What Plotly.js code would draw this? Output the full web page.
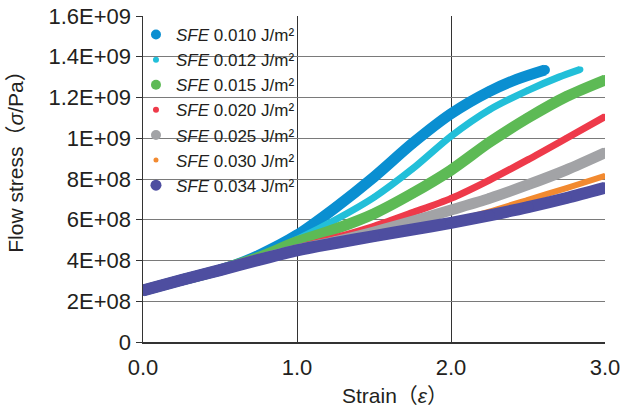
<!DOCTYPE html>
<html>
<head>
<meta charset="utf-8">
<script src="https://cdn.plot.ly/plotly-3.0.1.min.js"></script>
<style>html,body{margin:0;padding:0;background:#fff;}#chart{width:622px;height:411px;}</style>
</head>
<body>
<div id="chart"></div>
<script>
// ---- data ----
const sfeLabels = ["0.010", "0.012", "0.015", "0.020", "0.025", "0.030", "0.034"];
const seriesColors = ["#0a8fd1", "#22bfd9", "#5dba55", "#ee3a4a", "#a2a3a6", "#f28a30", "#4e4ea0"];

const strain010 = [0, 0.25, 0.5, 0.6, 0.75, 1.0, 1.25, 1.5, 1.75, 2.0, 2.25, 2.43, 2.61];
const stress010 = [2.53e8, 3.04e8, 3.53e8, 3.78e8, 4.25e8, 5.25e8, 6.6e8, 8.1e8, 9.75e8, 11.2e8, 12.3e8, 12.9e8, 13.35e8];

const strain012 = [0, 0.25, 0.5, 0.6, 0.75, 1.0, 1.25, 1.5, 1.75, 2.0, 2.25, 2.5, 2.7, 2.84];
const stress012 = [2.53e8, 3.04e8, 3.53e8, 3.78e8, 4.2e8, 5.04e8, 6.0e8, 7.1e8, 8.5e8, 10.1e8, 11.4e8, 12.35e8, 13.0e8, 13.38e8];

const strain015 = [0, 0.25, 0.5, 0.6, 0.75, 1.0, 1.25, 1.5, 1.75, 2.0, 2.25, 2.5, 2.75, 3.0];
const stress015 = [2.53e8, 3.04e8, 3.53e8, 3.78e8, 4.15e8, 4.92e8, 5.55e8, 6.3e8, 7.3e8, 8.44e8, 9.8e8, 11.0e8, 12.05e8, 12.86e8];

const strain020 = [0, 0.25, 0.5, 0.75, 1.0, 1.25, 1.5, 1.75, 2.0, 2.25, 2.5, 2.75, 3.0];
const stress020 = [2.53e8, 3.04e8, 3.53e8, 4.1e8, 4.62e8, 5.12e8, 5.68e8, 6.35e8, 7.05e8, 7.95e8, 8.95e8, 10.0e8, 11.06e8];

const strain025 = [0, 0.25, 0.5, 0.75, 1.0, 1.25, 1.5, 1.75, 2.0, 2.25, 2.5, 2.75, 3.0];
const stress025 = [2.53e8, 3.04e8, 3.53e8, 4.05e8, 4.52e8, 4.93e8, 5.4e8, 5.92e8, 6.48e8, 7.05e8, 7.72e8, 8.45e8, 9.29e8];

const strain030 = [0, 0.25, 0.5, 0.75, 1.0, 1.25, 1.5, 1.75, 2.0, 2.25, 2.5, 2.75, 3.0];
const stress030 = [2.53e8, 3.04e8, 3.53e8, 4.03e8, 4.5e8, 4.87e8, 5.22e8, 5.56e8, 5.92e8, 6.4e8, 6.98e8, 7.55e8, 8.15e8];

const strain034 = [0, 0.25, 0.5, 0.75, 1.0, 1.25, 1.5, 1.75, 2.0, 2.25, 2.5, 2.75, 3.0];
const stress034 = [2.53e8, 3.04e8, 3.53e8, 4.03e8, 4.5e8, 4.86e8, 5.2e8, 5.52e8, 5.85e8, 6.22e8, 6.62e8, 7.07e8, 7.57e8];

const xTickVals = [0, 1, 2, 3];
const xTickText = ["0.0", "1.0", "2.0", "3.0"];
const yTickVals = [0, 2e8, 4e8, 6e8, 8e8, 1e9, 1.2e9, 1.4e9, 1.6e9];
const yTickText = ["0", "2E+08", "4E+08", "6E+08", "8E+08", "1E+09", "1.2E+09", "1.4E+09", "1.6E+09"];
const xTitle = 'Strain（<i>ε</i>）';
const yTitle = 'Flow stress（<i>σ</i>/Pa）';

// ---- styling ----
const strains = [strain010, strain012, strain015, strain020, strain025, strain030, strain034];
const stresses = [stress010, stress012, stress015, stress020, stress025, stress030, stress034];
const lineWidths = [11, 7, 11, 7, 11, 6, 12];
const markerSizes = [10, 6, 10, 6, 10, 5, 11];

const traces = [];
for (let i = 0; i < sfeLabels.length; i++) {
  traces.push({
    x: strains[i], y: stresses[i], type: 'scatter', mode: 'lines',
    line: {color: seriesColors[i], width: lineWidths[i], shape: 'spline', smoothing: 0.8},
    showlegend: false, legendgroup: 'g' + i, hoverinfo: 'skip'
  });
  traces.push({
    x: strains[i], y: stresses[i], type: 'scatter', mode: 'markers',
    marker: {color: seriesColors[i], size: markerSizes[i]},
    name: '<i>SFE</i> ' + sfeLabels[i] + ' J/m²',
    showlegend: true, legendgroup: 'g' + i
  });
}

const fontFam = '"Liberation Sans", Arial, Helvetica, "Noto Sans CJK JP", sans-serif';
const txtColor = '#231f20';
const layout = {
  width: 622, height: 411,
  margin: {l: 143, r: 17, t: 16, b: 69, pad: 0},
  paper_bgcolor: '#ffffff', plot_bgcolor: '#ffffff',
  font: {family: fontFam, color: txtColor, size: 21},
  xaxis: {
    range: [0, 3], tickmode: 'array', tickvals: xTickVals, ticktext: xTickText,
    showgrid: true, gridcolor: '#333333', gridwidth: 1,
    showline: true, linecolor: '#333333', linewidth: 1.5,
    ticks: '', ticklabelstandoff: 5,
    zeroline: false, tickfont: {size: 22, color: txtColor},
    automargin: false, fixedrange: true
  },
  yaxis: {
    range: [0, 1.6e9], tickmode: 'array', tickvals: yTickVals, ticktext: yTickText,
    showgrid: true, gridcolor: '#7a7a7a', gridwidth: 1,
    showline: true, linecolor: '#333333', linewidth: 1.5,
    ticks: 'outside', ticklen: 6, tickcolor: '#333333', tickwidth: 1,
    zeroline: false, tickfont: {size: 22, color: txtColor},
    automargin: false, fixedrange: true
  },
  annotations: [
    {text: xTitle, xref: 'paper', yref: 'paper', x: 0.5455, y: -0.1656,
     xanchor: 'center', yanchor: 'middle', showarrow: false, font: {size: 21, color: txtColor}},
    {text: yTitle, xref: 'paper', yref: 'paper', x: -0.2766, y: 0.569, textangle: -90,
     xanchor: 'center', yanchor: 'middle', showarrow: false, font: {size: 21, color: txtColor}}
  ],
  showlegend: true,
  legend: {
    x: -0.0152, y: 0.997, xanchor: 'left', yanchor: 'top',
    bgcolor: 'rgba(0,0,0,0)', borderwidth: 0,
    font: {size: 17, color: txtColor, family: fontFam},
    traceorder: 'normal'
  },
  shapes: [{
    type: 'rect', xref: 'paper', yref: 'paper',
    x0: 0.0216, x1: 0.366, y0: 0.457, y1: 0.982,
    fillcolor: '#ffffff', line: {width: 0}, layer: 'between'
  }]
};

Plotly.newPlot('chart', traces, layout, {displayModeBar: false, staticPlot: true});
</script>
</body>
</html>
